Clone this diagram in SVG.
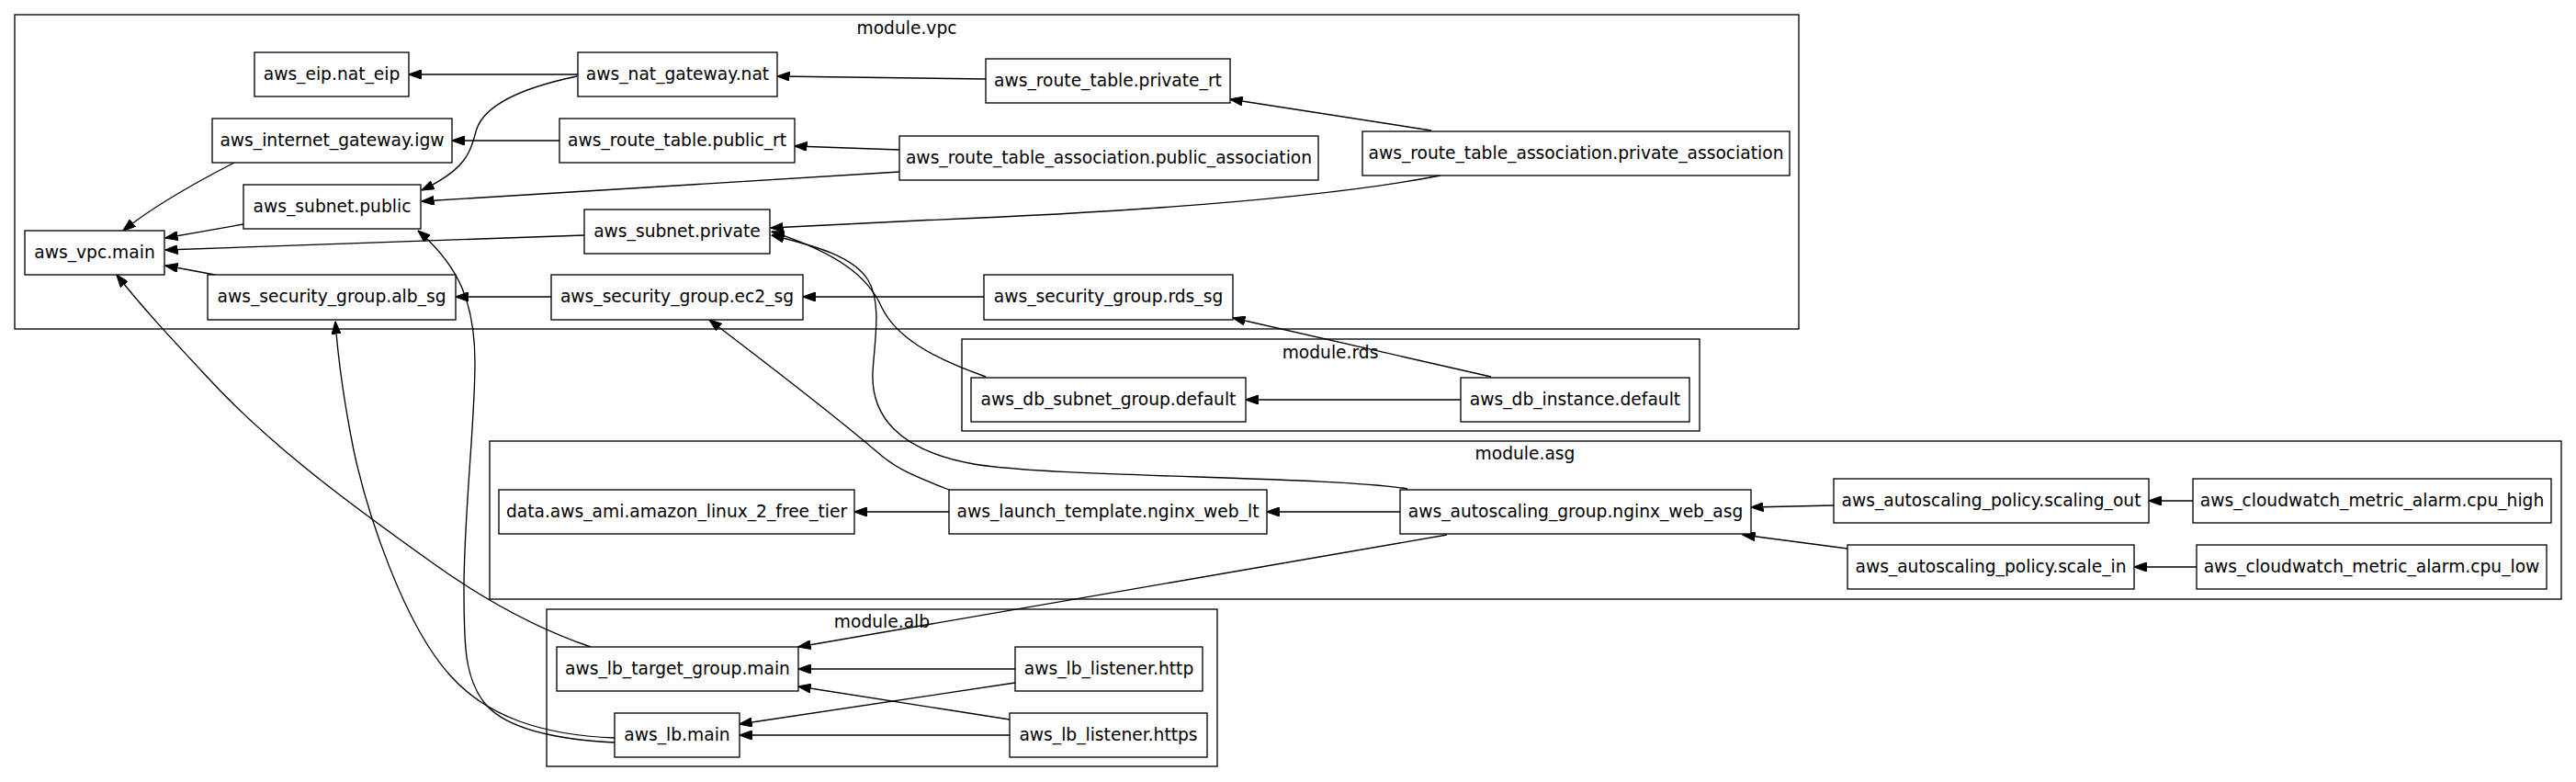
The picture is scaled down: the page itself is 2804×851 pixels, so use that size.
<svg xmlns="http://www.w3.org/2000/svg" width="2804" height="851" viewBox="0 0 2804 851">
<style>
.cl{fill:none;stroke:#000;stroke-width:1.33}
.nd rect{fill:#fff;stroke:#000;stroke-width:1.33}
text{font-family:"DejaVu Sans","Liberation Sans",sans-serif;font-size:18.67px;fill:#000;text-anchor:middle}
.ed path{fill:none;stroke:#000;stroke-width:1.33;marker-end:url(#ah)}
</style>
<defs>
<marker id="ah" markerUnits="userSpaceOnUse" markerWidth="14" markerHeight="10" viewBox="0 0 14 10" refX="13.5" refY="5" orient="auto">
<path d="M0,0 L14,5 L0,10 z" fill="#000" stroke="#000" stroke-width="1"/>
</marker>
</defs>
<rect width="2804" height="851" fill="#fff"/>
<g id="clusters">
<g id="cluster_vpc"><rect class="cl" x="16" y="16" width="1942" height="342"/><text x="987" y="37">module.vpc</text></g>
<g id="cluster_rds"><rect class="cl" x="1047" y="369" width="803" height="100"/><text x="1448" y="390">module.rds</text></g>
<g id="cluster_asg"><rect class="cl" x="533" y="480" width="2255" height="172"/><text x="1660" y="500">module.asg</text></g>
<g id="cluster_alb"><rect class="cl" x="595" y="663" width="730" height="171"/><text x="960" y="683">module.alb</text></g>
</g>
<g id="edges" class="ed">
<path d="M629,81 L445,81"/>
<path d="M628,83 C566,96 528,115 519,140 C512,162 512,182 459,207"/>
<path d="M1073,86 L846,83"/>
<path d="M609,153 L492,153"/>
<path d="M255,177 C220,195 170,222 134,251"/>
<path d="M979,163 L865,159"/>
<path d="M979,187 L459,219"/>
<path d="M1558,142 L1339,108"/>
<path d="M1568,191 C1470,210 1300,228 1000,240 L839,248"/>
<path d="M265,244 L180,259"/>
<path d="M636,256 L180,272"/>
<path d="M234,299 L180,289"/>
<path d="M600,323 L496,323"/>
<path d="M1071,323 L874,323"/>
<path d="M1623,410 L1342,346"/>
<path d="M1590,435 L1356,435"/>
<path d="M1073,410 C1010,388 975,365 960,335 C945,300 910,275 840,252"/>
<path d="M1532,532 C1450,518 1150,520 1060,505 C975,490 948,450 950,405 C952,370 960,330 945,305 C930,280 890,268 840,256"/>
<path d="M1033,533 C995,518 975,510 955,492 C935,475 880,430 772,348"/>
<path d="M1033,557 L930,557"/>
<path d="M1524,557 L1379,557"/>
<path d="M1575,582 L869,704"/>
<path d="M1996,550 L1906,552"/>
<path d="M2387,545 L2339,545"/>
<path d="M2011,597 L1897,582"/>
<path d="M2391,617 L2323,617"/>
<path d="M1105,728 L869,728"/>
<path d="M1105,743 L805,788"/>
<path d="M1099,783 L869,747"/>
<path d="M1099,800 L805,800"/>
<path d="M643,704 C590,686 530,655 470,612 C390,555 300,490 230,415 C190,372 155,335 127,299"/>
<path d="M669,803 C590,800 530,780 490,735 C440,680 400,560 385,490 C375,440 368,390 365,350"/>
<path d="M669,808 C610,805 555,795 530,768 C505,740 505,700 505,640 C505,560 517,460 517,395 C517,330 500,290 455,251"/>
</g>
<g id="n_eip" class="nd"><rect x="277" y="57" width="168" height="48"/><text x="361" y="87">aws_eip.nat_eip</text></g>
<g id="n_nat" class="nd"><rect x="629" y="57" width="217" height="48"/><text x="737.5" y="87">aws_nat_gateway.nat</text></g>
<g id="n_igw" class="nd"><rect x="231" y="129" width="261" height="48"/><text x="361.5" y="159">aws_internet_gateway.igw</text></g>
<g id="n_public_rt" class="nd"><rect x="609" y="129" width="256" height="48"/><text x="737" y="159">aws_route_table.public_rt</text></g>
<g id="n_subnet_public" class="nd"><rect x="265" y="201" width="193" height="48"/><text x="361.5" y="231">aws_subnet.public</text></g>
<g id="n_subnet_private" class="nd"><rect x="636" y="228" width="202" height="48"/><text x="737" y="258">aws_subnet.private</text></g>
<g id="n_vpc_main" class="nd"><rect x="27" y="251" width="152" height="48"/><text x="103" y="281">aws_vpc.main</text></g>
<g id="n_alb_sg" class="nd"><rect x="226" y="299" width="270" height="49"/><text x="361" y="329">aws_security_group.alb_sg</text></g>
<g id="n_ec2_sg" class="nd"><rect x="600" y="299" width="274" height="49"/><text x="737" y="329">aws_security_group.ec2_sg</text></g>
<g id="n_private_rt" class="nd"><rect x="1073" y="64" width="266" height="48"/><text x="1206" y="94">aws_route_table.private_rt</text></g>
<g id="n_public_assoc" class="nd"><rect x="979" y="148" width="456" height="48"/><text x="1207" y="178">aws_route_table_association.public_association</text></g>
<g id="n_private_assoc" class="nd"><rect x="1483" y="143" width="465" height="48"/><text x="1715.5" y="173">aws_route_table_association.private_association</text></g>
<g id="n_rds_sg" class="nd"><rect x="1071" y="299" width="271" height="49"/><text x="1206.5" y="329">aws_security_group.rds_sg</text></g>
<g id="n_db_subnet" class="nd"><rect x="1057" y="411" width="299" height="48"/><text x="1206.5" y="441">aws_db_subnet_group.default</text></g>
<g id="n_db_instance" class="nd"><rect x="1590" y="411" width="249" height="48"/><text x="1714.5" y="441">aws_db_instance.default</text></g>
<g id="n_ami" class="nd"><rect x="543" y="533" width="387" height="48"/><text x="736.5" y="563">data.aws_ami.amazon_linux_2_free_tier</text></g>
<g id="n_launch_template" class="nd"><rect x="1033" y="533" width="346" height="48"/><text x="1206" y="563">aws_launch_template.nginx_web_lt</text></g>
<g id="n_asg" class="nd"><rect x="1524" y="533" width="382" height="48"/><text x="1715" y="563">aws_autoscaling_group.nginx_web_asg</text></g>
<g id="n_scaling_out" class="nd"><rect x="1996" y="521" width="343" height="48"/><text x="2167.5" y="551">aws_autoscaling_policy.scaling_out</text></g>
<g id="n_cpu_high" class="nd"><rect x="2387" y="521" width="390" height="48"/><text x="2582" y="551">aws_cloudwatch_metric_alarm.cpu_high</text></g>
<g id="n_scale_in" class="nd"><rect x="2011" y="593" width="312" height="48"/><text x="2167" y="623">aws_autoscaling_policy.scale_in</text></g>
<g id="n_cpu_low" class="nd"><rect x="2391" y="593" width="381" height="48"/><text x="2581.5" y="623">aws_cloudwatch_metric_alarm.cpu_low</text></g>
<g id="n_target_group" class="nd"><rect x="606" y="704" width="263" height="48"/><text x="737.5" y="734">aws_lb_target_group.main</text></g>
<g id="n_http" class="nd"><rect x="1105" y="704" width="204" height="48"/><text x="1207" y="734">aws_lb_listener.http</text></g>
<g id="n_lb_main" class="nd"><rect x="669" y="776" width="136" height="48"/><text x="737" y="806">aws_lb.main</text></g>
<g id="n_https" class="nd"><rect x="1099" y="776" width="215" height="48"/><text x="1206.5" y="806">aws_lb_listener.https</text></g>
</svg>
